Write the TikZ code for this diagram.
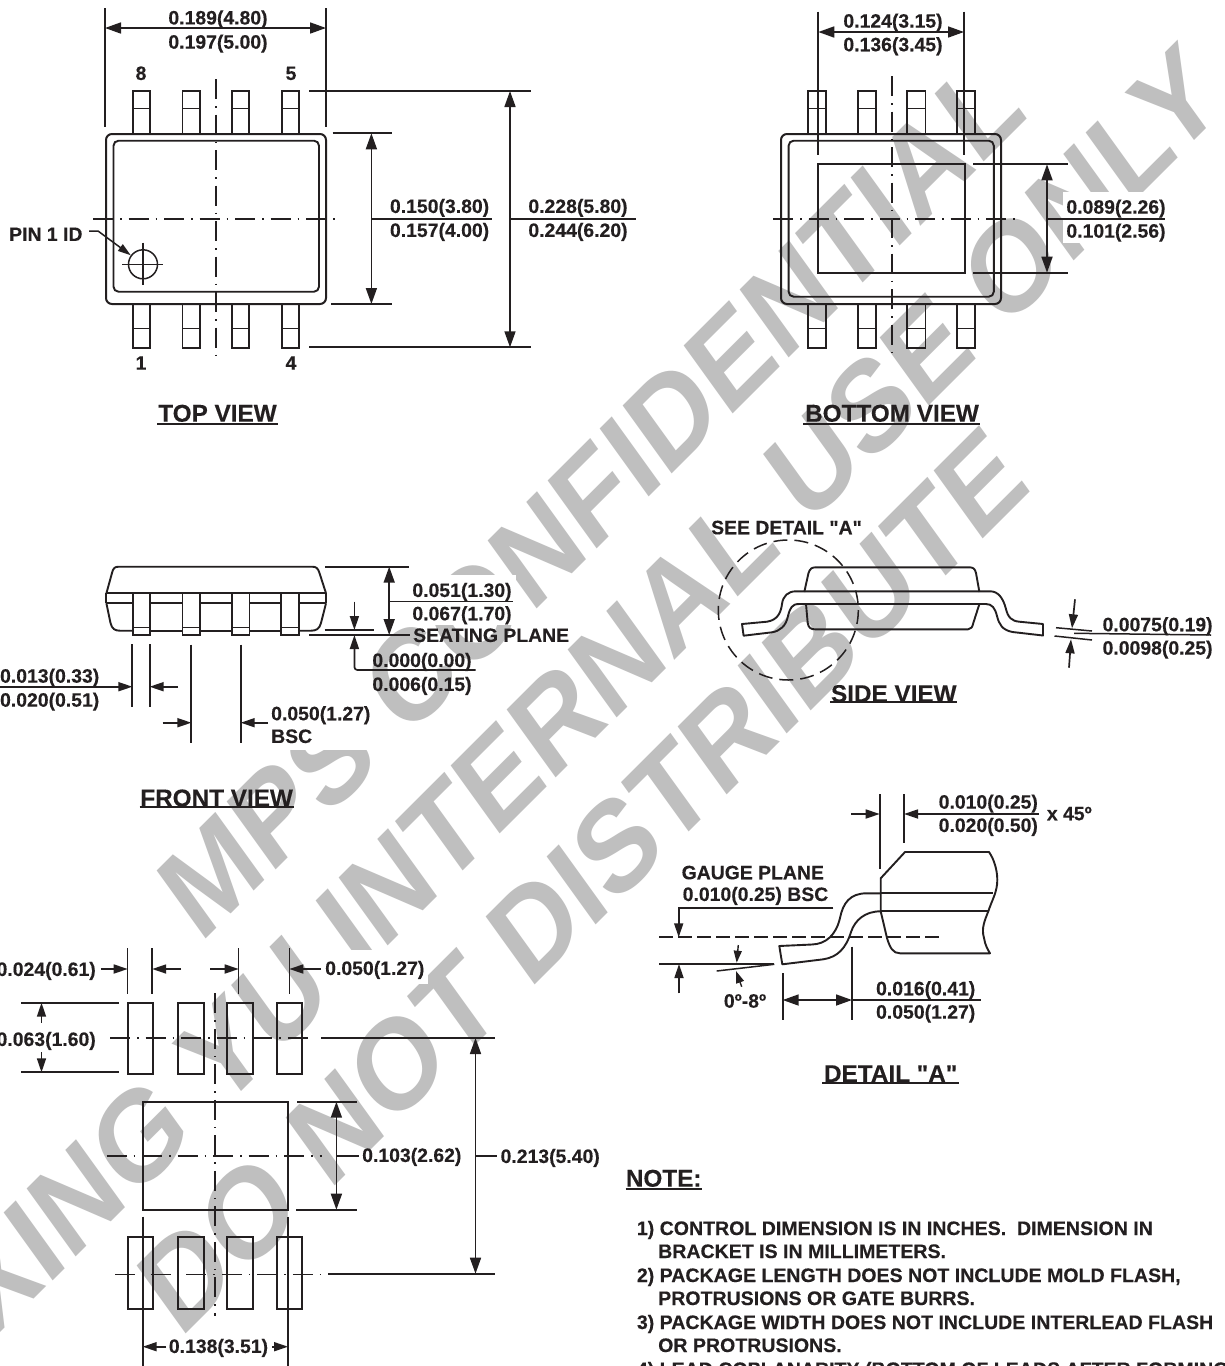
\documentclass[tikz,border=0pt]{standalone}
\usepackage{fontspec}
\setmainfont{Liberation Sans}
\newfontfamily\dfont{Liberation Sans Bold}[FakeBold=0.25]
\newfontfamily\wfont{Liberation Sans Bold}
\usetikzlibrary{arrows.meta}
\definecolor{ink}{HTML}{231F20}
\definecolor{wm}{HTML}{BFBFBF}
\tikzset{
  thin line/.style={draw=ink,line width=1.5pt},
  outline/.style={draw=ink,line width=1.9pt},
  extline/.style={draw=ink,line width=2pt},
  centerline/.style={draw=ink,line width=1.6pt,dash pattern=on 20pt off 7pt on 1.5pt off 7pt},
  dimarrow/.style={draw=ink,line width=1.7pt,-{Triangle[length=14pt,width=9pt]}},
  dimboth/.style={draw=ink,line width=1.7pt,{Triangle[length=16pt,width=11pt]}-{Triangle[length=16pt,width=11pt]}},
  dimtext/.style={text=ink,inner sep=0pt,text height=13.9pt,text depth=0pt,font=\dfont\fontsize{19.4}{19.4}\selectfont},
  titletext/.style={text=ink,inner sep=0pt,text height=17.4pt,text depth=0pt,font=\dfont\fontsize{24.3}{24.3}\selectfont},
  notetext/.style={text=ink,inner sep=0pt,anchor=west,text height=14pt,text depth=0pt,font=\dfont\fontsize{19.55}{19.55}\selectfont},
  watermark/.style={text=wm,inner sep=0pt,anchor=base west,rotate=40.3,font=\wfont\fontsize{129.5}{129.5}\selectfont},
  erase/.style={fill=white,draw=none},
}
\begin{document}
\begin{tikzpicture}[x=1pt,y=-1pt]
\useasboundingbox (0,0) rectangle (1225,1366);
\clip (0,0) rectangle (1225,1366);
\fill[white] (0,0) rectangle (1225,1366);
% watermark (the sheet is squeezed horizontally, so the text is too)
\begin{scope}[shift={(200,945)},xscale=.85,transform shape]
  \node[watermark] (wmA) at (0,0) {MPS CONFIDENTIAL};
\end{scope}
\begin{scope}[shift={(-9,1342)},xscale=.85,transform shape]
  \node[watermark] (wmB) at (0,0) {XING YU INTERNAL USE ONLY};
\end{scope}
\begin{scope}[shift={(180,1340)},xscale=.85,transform shape]
  \node[watermark] (wmC) at (0,0) {DO NOT DISTRIBUTE};
\end{scope}
\fill[erase] (1063,192) rectangle (1170,243);
\fill[erase] (268,700) rectangle (370,750);
\fill[erase] (412,575) rectangle (516,625);
\fill[erase] (322,950) rectangle (428,984);

% ---------- TOP VIEW ----------
\foreach \a/\b in {132.6/150,182.5/200,232/249.4,281.6/299}{
  \draw[outline] (\a,134) -- (\a,90.7) -- (\b,90.7) -- (\b,134);
  \draw[thin line] (\a,108.7) -- (\b,108.7);
  \draw[outline] (\a,304) -- (\a,347.7) -- (\b,347.7) -- (\b,304);
  \draw[thin line] (\a,328.3) -- (\b,328.3);
}
\draw[extline,rounded corners=6pt] (106,134) rectangle (326,304);
\draw[outline,rounded corners=5pt] (113.5,140.7) rectangle (319,291.7);
\draw[centerline] (216,79) -- (216,358);
\draw[centerline] (93,219) -- (338,219);
\draw[extline] (105,8) -- (105,127);
\draw[extline] (326,8) -- (326,127);
\draw[dimboth] (105,28) -- (326,28);
\node[dimtext] (t1) at (218,17.5) {0.189(4.80)};
\node[dimtext] (t2) at (218,41.7) {0.197(5.00)};
\node[dimtext] (n8) at (141,73) {8};
\node[dimtext] (n5) at (291,73) {5};
\node[dimtext] (n1) at (141,362.7) {1};
\node[dimtext] (n4) at (291,362.7) {4};
\draw[extline] (309,91) -- (530.6,91);
\draw[extline] (309,347.3) -- (530.6,347.3);
\draw[extline] (332.6,133.3) -- (392,133.3);
\draw[extline] (331.4,304) -- (392,304);
\draw[dimboth] (371.4,133.3) -- (371.4,304);
\draw[dimboth] (510,91) -- (510,347.3);
\draw[thin line] (371.4,219) -- (492,219);
\draw[thin line] (510,219) -- (635.5,219);
\node[dimtext] (t3) at (439.6,206) {0.150(3.80)};
\node[dimtext] (t4) at (439.6,230) {0.157(4.00)};
\node[dimtext] (t5) at (578,206) {0.228(5.80)};
\node[dimtext] (t6) at (578,230) {0.244(6.20)};
\node[dimtext,anchor=west] (pin) at (9,234) {PIN 1 ID};
\node[draw=ink,line width=1.5pt,circle,minimum size=29pt,inner sep=0pt] (pinc) at (143,264.3) {};
\draw[thin line] (122.4,264.3) -- (163,264.3);
\draw[thin line] (143,242.7) -- (143,285);
\draw[draw=ink,line width=1.5pt,-{Triangle[length=13pt,width=8pt]}] (89,231) -- (98,231) -- (pinc);
\node[titletext] (tv) at (217.5,413) {TOP VIEW};
\draw[extline] (157,424.3) -- (277.6,424.3);

% ---------- BOTTOM VIEW ----------
\foreach \a/\b in {808.4/826,857.6/876,907.4/925.5,957.2/975.3}{
  \draw[outline] (\a,134) -- (\a,90.7) -- (\b,90.7) -- (\b,134);
  \draw[thin line] (\a,108.7) -- (\b,108.7);
  \draw[outline] (\a,304) -- (\a,347.7) -- (\b,347.7) -- (\b,304);
  \draw[thin line] (\a,328.3) -- (\b,328.3);
}
\draw[extline,rounded corners=6pt] (781,134) rectangle (1001,304);
\draw[outline,rounded corners=5pt] (788.6,140.7) rectangle (993.8,296.7);
\draw[outline] (818.3,164.3) rectangle (964.7,273.3);
\draw[centerline] (891.7,76) -- (891.7,358);
\draw[centerline] (773,219) -- (1017,219);
\draw[extline] (818.3,11.7) -- (818.3,155);
\draw[extline] (964,11.7) -- (964,155);
\draw[dimboth] (818.3,32) -- (964,32);
\node[dimtext] (b1) at (893,20.7) {0.124(3.15)};
\node[dimtext] (b2) at (893,44.3) {0.136(3.45)};
\draw[extline] (973.3,164.3) -- (1067.8,164.3);
\draw[extline] (973.3,272.7) -- (1067.8,272.7);
\draw[dimboth] (1047,164.3) -- (1047,272.7);
\draw[thin line] (1047,219) -- (1165.4,219);
\node[dimtext] (b3) at (1116,206.7) {0.089(2.26)};
\node[dimtext] (b4) at (1116,230.7) {0.101(2.56)};
\node[titletext] (bv) at (892,413) {BOTTOM VIEW};
\draw[extline] (803,424.3) -- (980,424.3);

% ---------- FRONT VIEW ----------
\draw[outline,line join=round] (106.4,593.3) -- (112,573) .. controls (113,568) and (115,566.7) .. (119,566.7) -- (312,566.7) .. controls (316,566.7) and (318,568) .. (319.5,573) -- (326,593.3);
\draw[outline,line join=round] (106.4,603.3) -- (110.5,623) .. controls (112,629) and (115,630.7) .. (120,630.7) -- (132.8,630.7);
\draw[outline,line join=round] (326,603.3) -- (321,623) .. controls (319.5,629) and (316,630.7) .. (311,630.7) -- (298.9,630.7);
\draw[outline] (106.4,593.3) -- (326,593.3);
\draw[outline] (106.4,593.3) -- (106.4,603.3);
\draw[outline] (326,593.3) -- (326,603.3);
\draw[outline] (106.4,603.3) -- (132.8,603.3) (150,603.3) -- (182.5,603.3) (199.8,603.3) -- (232,603.3) (249.5,603.3) -- (281.3,603.3) (298.9,603.3) -- (326,603.3);
\draw[outline] (150,630.7) -- (182.5,630.7) (199.8,630.7) -- (232,630.7) (249.5,630.7) -- (281.3,630.7);
\foreach \a/\b in {132.8/150,182.5/199.8,232/249.5,281.3/298.9}{
  \draw[outline] (\a,593.3) -- (\a,635.3) -- (\b,635.3) -- (\b,593.3);
  \draw[thin line] (\a,627.3) -- (\b,627.3);
}
\draw[extline] (325.3,566.7) -- (408.7,566.7);
\draw[extline] (309,635) -- (409.5,635);
\draw[extline] (324.5,630) -- (374.3,630);
\draw[dimboth] (389.2,566.7) -- (389.2,635);
\draw[thin line] (389.2,601.7) -- (512.8,601.7);
\node[dimtext] (f1) at (462,590) {0.051(1.30)};
\node[dimtext] (f2) at (462,613.3) {0.067(1.70)};
\node[dimtext,anchor=west] (f3) at (413,635) {SEATING PLANE};
\draw[dimarrow] (354.4,601.7) -- (354.4,630);
\draw[dimarrow,rounded corners=3pt] (475.7,670) -- (354.4,670) -- (354.4,635);
\node[dimtext] (f4) at (422,660) {0.000(0.00)};
\node[dimtext] (f5) at (422,684) {0.006(0.15)};
\draw[extline] (132.4,644.3) -- (132.4,707.3);
\draw[extline] (149.6,644.3) -- (149.6,707.3);
\draw[extline] (191.4,644.7) -- (191.4,742.7);
\draw[extline] (240.7,644.7) -- (240.7,742.7);
\draw[dimarrow] (0,686.7) -- (132.4,686.7);
\draw[dimarrow] (178,686.7) -- (149.6,686.7);
\draw[dimarrow] (162.6,722.7) -- (191.4,722.7);
\draw[dimarrow] (268,722.7) -- (240.7,722.7);
\node[dimtext,anchor=east] (f6) at (99.5,675.7) {0.013(0.33)};
\node[dimtext,anchor=east] (f7) at (99.5,699.7) {0.020(0.51)};
\node[dimtext,anchor=west] (f8) at (271,713.3) {0.050(1.27)};
\node[dimtext,anchor=west] (f9) at (271,736) {BSC};
\node[titletext] (fv) at (216.6,797.7) {FRONT VIEW};
\draw[extline] (139.7,807.3) -- (294,807.3);

% ---------- SIDE VIEW ----------
\node[dimtext,anchor=west] (s1) at (711,527.3) {SEE DETAIL "A"};
\draw[draw=ink,line width=1.5pt,dash pattern=on 14pt off 7pt] (788.3,610) circle (70);
\draw[outline,line join=round] (804.3,592) -- (808.5,573) .. controls (810,568.5) and (812,567.3) .. (816,567.3) -- (969,567.3) .. controls (973,567.3) and (975,568.5) .. (976,573) -- (979.4,592);
\draw[outline,line join=round] (806,604) -- (807.7,623) .. controls (808.5,628) and (811,629.3) .. (815,629.3) -- (968,629.3) .. controls (971,629.3) and (972.5,627) .. (973.3,623) -- (979.4,604);
\draw[outline,line join=round] (742,624) -- (767,621.7) .. controls (778,620) and (781,612) .. (782,604) .. controls (783,596) and (788,591.3) .. (796,591.3) -- (990.3,591.3) .. controls (998,591.3) and (1003,598) .. (1005.7,608) .. controls (1008,618) and (1012,621) .. (1019.3,621.7) -- (1043,624) -- (1043,635.5) -- (1012.5,632) .. controls (1002,630) and (999,624) .. (997,616) .. controls (995,608) and (992,604) .. (986,604) -- (799,604) .. controls (792,604) and (790,608) .. (788,616) .. controls (786,626) and (780,631) .. (772,632.3) -- (743.6,635.7) -- cycle;
\draw[thin line] (1056,627.7) -- (1092,631);
\draw[thin line] (1054.5,636) -- (1092,640);
\draw[dimarrow] (1075,599.3) -- (1072,628.3);
\draw[dimarrow] (1069,667.7) -- (1071,639.3);
\draw[thin line] (1074,633.3) -- (1211,635);
\node[dimtext] (s2) at (1157.6,624.3) {0.0075(0.19)};
\node[dimtext] (s3) at (1157.6,647.7) {0.0098(0.25)};
\node[titletext] (sv) at (893.8,693.3) {SIDE VIEW};
\draw[extline] (830,702) -- (957,702);

% ---------- DETAIL A ----------
\draw[extline] (879.7,794) -- (879.7,868.7);
\draw[extline] (904,794) -- (904,842.7);
\draw[dimarrow] (851,814) -- (879.7,814);
\draw[dimarrow] (936,814) -- (904,814);
\draw[thin line] (936,814) -- (1039,814);
\node[dimtext] (d1) at (988.3,801.7) {0.010(0.25)};
\node[dimtext] (d2) at (988.3,825) {0.020(0.50)};
\node[dimtext,anchor=west] (d3) at (1046.7,813.3) {x 45º};
\draw[outline,line join=round] (880.7,911.3) -- (880.7,878.3) -- (905,852) -- (989,852) .. controls (994,859) and (997.3,870) .. (997.3,880) .. controls (997.3,892) and (992,900) .. (988.3,911.3) .. controls (985,920) and (981,928) .. (984,938) .. controls (985,945) and (988,950) .. (990,953.3) -- (900,953.3) .. controls (893,953.3) and (890,948) .. (887,938) -- (880.7,911.3);
\draw[outline] (880.7,893.3) -- (993.3,893.3);
\draw[outline] (880.7,911.3) -- (988.3,911.3);
\draw[outline,line join=round] (880.7,893.3) -- (866.7,893.3) .. controls (850,893.3) and (843,903) .. (840,918) .. controls (836,935) and (826,944) .. (812,944.5) -- (779.3,946) -- (782.3,964.3) -- (823.3,959.3) .. controls (838,957) and (846,948) .. (851,932) .. controls (855,920) and (865,911.3) .. (880.7,911.3);
\draw[draw=ink,line width=1.7pt,dash pattern=on 14pt off 5pt] (659,937.3) -- (943,937.3);
\node[dimtext] (d4) at (752.8,872.3) {GAUGE PLANE};
\node[dimtext] (d5) at (755.5,894) {0.010(0.25) BSC};
\draw[dimarrow] (833.3,907.7) -- (678.7,907.7) -- (678.7,937.3);
\draw[outline] (659,963.7) -- (774.3,963.7);
\draw[thin line] (716.7,971) -- (774.3,964.3);
\draw[dimarrow] (679,993.3) -- (679,964);
\draw[draw=ink,line width=1.4pt,-{Triangle[length=12pt,width=8pt]}] (738.3,945) -- (736.7,962.7);
\draw[draw=ink,line width=1.4pt,-{Triangle[length=12pt,width=8pt]}] (741.7,986.7) -- (736,971);
\node[dimtext] (d6) at (745,1000.7) {0º-8º};
\draw[extline] (782.7,973.3) -- (782.7,1020);
\draw[extline] (852,946.7) -- (852,1020);
\draw[dimboth] (782.7,1000) -- (852,1000);
\draw[thin line] (852,1000) -- (980.7,1000);
\node[dimtext] (d7) at (925.7,988.3) {0.016(0.41)};
\node[dimtext] (d8) at (925.7,1011.7) {0.050(1.27)};
\node[titletext] (dv) at (890.7,1073.3) {DETAIL "A"};
\draw[extline] (822.3,1083.3) -- (959.3,1083.3);

% ---------- LAND PATTERN ----------
\foreach \a/\b in {127.7/153,178.3/203.6,227.3/252.6,277/302.4}{
  \draw[outline] (\a,1002.7) rectangle (\b,1074);
  \draw[outline] (\a,1237.3) rectangle (\b,1308.7);
}
\draw[outline] (142.7,1101.7) rectangle (288,1209.7);
\draw[centerline] (215,993.3) -- (215,1316);
\draw[centerline] (110,1038) -- (312,1038);
\draw[centerline] (106.7,1156) -- (322,1156);
\draw[centerline] (115.4,1274.3) -- (320,1274.3);
\draw[thin line] (127.7,948.3) -- (127.7,994);
\draw[thin line] (152.2,948.3) -- (152.2,994);
\draw[thin line] (238.7,948.3) -- (238.7,994);
\draw[thin line] (289.3,948.3) -- (289.3,994);
\draw[dimarrow] (100.8,969) -- (127.7,969);
\draw[dimarrow] (181,969) -- (152.2,969);
\draw[dimarrow] (210.3,969) -- (238.7,969);
\draw[dimarrow] (321,969) -- (289.3,969);
\node[dimtext,anchor=east] (l1) at (96,969) {0.024(0.61)};
\node[dimtext,anchor=west] (l2) at (325,968) {0.050(1.27)};
\draw[extline] (21,1002.7) -- (118.6,1002.7);
\draw[extline] (21,1072.3) -- (118.6,1072.3);
\draw[dimarrow] (41.5,1022.7) -- (41.5,1002.7);
\draw[dimarrow] (41.5,1052.3) -- (41.5,1072.3);
\node[dimtext,anchor=east] (l3) at (96,1039) {0.063(1.60)};
\draw[extline] (321,1038) -- (495.3,1038);
\draw[extline] (297,1101.7) -- (357,1101.7);
\draw[extline] (296,1209.7) -- (357,1209.7);
\draw[dimboth] (336.4,1101.7) -- (336.4,1209.7);
\draw[thin line] (336.4,1156) -- (359,1156);
\node[dimtext,anchor=west] (l4) at (362,1155) {0.103(2.62)};
\draw[dimboth] (475.5,1038) -- (475.5,1273.7);
\draw[thin line] (475.5,1156) -- (497,1156);
\node[dimtext,anchor=west] (l5) at (500.4,1156) {0.213(5.40)};
\draw[extline] (328,1273.7) -- (495.3,1273.7);
\draw[extline] (142.7,1216.7) -- (142.7,1366);
\draw[extline] (288,1216.7) -- (288,1366);
\draw[dimarrow] (166,1346.7) -- (142.7,1346.7);
\draw[dimarrow] (272,1346.7) -- (288,1346.7);
\node[dimtext] (l6) at (218.5,1346) {0.138(3.51)};

% ---------- NOTES ----------
\node[titletext,anchor=west] (nt) at (625.7,1178) {NOTE:};
\draw[extline] (625.7,1188.7) -- (702,1188.7);
\node[notetext] (nl1) at (636.7,1228) {1) CONTROL DIMENSION IS IN INCHES.\ \ DIMENSION IN};
\node[notetext] (nl2) at (658,1251) {BRACKET IS IN MILLIMETERS.};
\node[notetext] (nl3) at (636.7,1275) {2) PACKAGE LENGTH DOES NOT INCLUDE MOLD FLASH,};
\node[notetext] (nl4) at (658,1298) {PROTRUSIONS OR GATE BURRS.};
\node[notetext] (nl5) at (636.7,1322) {3) PACKAGE WIDTH DOES NOT INCLUDE INTERLEAD FLASH};
\node[notetext] (nl6) at (658,1345) {OR PROTRUSIONS.};
\node[notetext] (nl7) at (636.7,1369) {4) LEAD COPLANARITY (BOTTOM OF LEADS AFTER FORMING};
\end{tikzpicture}
\end{document}
